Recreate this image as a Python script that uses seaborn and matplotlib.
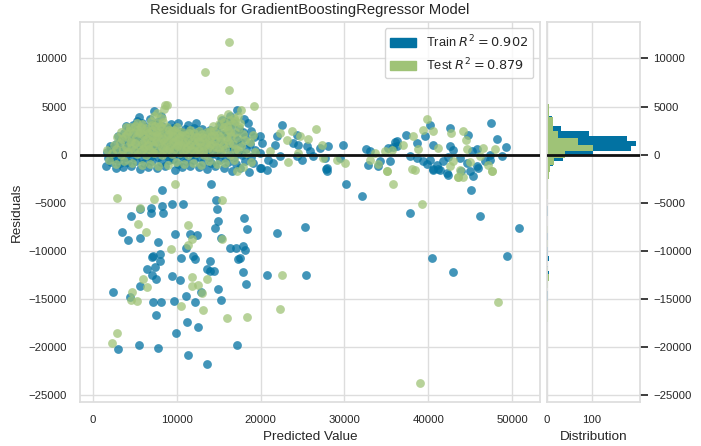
import matplotlib
matplotlib.use("Agg")
import matplotlib.pyplot as plt
import matplotlib.patches as mpatches
import numpy as np
import pandas as pd
import seaborn as sns

# colours of the yellowbrick palette
TRAIN_COLOR = "#0272a2"
TEST_COLOR = "#9fc377"

train_r2 = 0.902
test_r2 = 0.879

# (predicted value, residual)
train_core = [
    (1600, -1200), (2100, -800), (1800, -400), (2300, 0), (1700, 300), (2200, 600), (2000, 900), (2400, -300),
    (2700, -1400), (3200, -900), (2900, -500), (3400, -100), (2600, 300), (3100, 700), (2800, 1100), (3300, 1500), (3000, 1900),
    (3600, -1300), (4100, -800), (3800, -300), (4300, 200), (3700, 600), (4200, 1000), (3900, 1400), (4400, 1800), (3700, 2200), (4200, 2600), (4000, 3000),
    (4600, -1200), (5100, -700), (4800, -200), (5300, 300), (4700, 700), (5200, 1100), (4900, 1500), (5400, 1900), (4700, 2300), (5100, 2700), (4800, 3100), (5300, 3500), (5490, 3880),
    (5600, -1500), (6100, -900), (5800, -400), (6300, 100), (5700, 500), (6200, 900), (5900, 1300), (6400, 1700), (5600, 2100), (6000, 2500), (6300, 2900), (5800, 3300),
    (6600, -1300), (7100, -700), (6800, -200), (7300, 300), (6700, 700), (7200, 1100), (6900, 1500), (7400, 1900), (6600, 2300), (7000, 2700), (7300, 3200), (6800, 3700), (7280, 4510),
    (7600, -1400), (8100, -800), (7800, -300), (8300, 200), (7700, 600), (8200, 1000), (7900, 1400), (8400, 1800), (7600, 2200), (8000, 2600), (8300, 3000), (7700, 3400), (8100, 4000),
    (8600, -1200), (9100, -600), (8800, -100), (9300, 400), (8700, 800), (9200, 1200), (8900, 1600), (9400, 2000), (8600, 2400), (9000, 2800), (9300, 3200),
    (9750, -1600), (10100, -1000), (9600, -500), (10300, 0), (9800, 400), (10200, 800), (9700, 1200), (10400, 1600), (9900, 2000), (10300, 2400), (9600, 2800), (10100, 3300),
    (10600, -1300), (11100, -700), (10800, -200), (11300, 300), (10700, 700), (11200, 1100), (10900, 1500), (11400, 1900), (10600, 2300), (11000, 2700), (11300, 3100),
    (11600, -1200), (12100, -600), (11800, 0), (12300, 400), (11700, 800), (12200, 1200), (11900, 1600), (12400, 2000), (11600, 2400), (12000, 2800), (12300, 3300),
    (12600, -1300), (13100, -800), (12800, -200), (13300, 300), (12700, 700), (13200, 1100), (12900, 1500), (13400, 1900), (12600, 2300), (13000, 2700),
    (13600, -1500), (14100, -900), (13800, -300), (14300, 200), (13700, 600), (14200, 1000), (13900, 1400), (14400, 1800), (13600, 2200), (14000, 2600),
    (14600, -1200), (15100, -600), (14800, 0), (15300, 500), (14700, 900), (15200, 1300), (14900, 1700), (15400, 2100), (14700, 2600), (15100, 3100), (15400, 3600),
    (15600, -1400), (16100, -800), (15800, -200), (16300, 400), (15700, 1000), (16200, 1600), (15900, 2200), (16400, 2800), (16000, 3400), (16300, 4000),
    (16600, -1700), (17100, -1000), (16800, -300), (17300, 300), (16700, 900), (17200, 1500), (16900, 2100), (17400, 2700), (16800, 3300), (17140, 4680),
    (17600, -1400), (18100, -700), (17800, 0), (18300, 600), (17700, 1200), (18200, 1800), (17900, 2400), (18530, 3290), (18000, 3700),
    (18600, -1800), (19100, -900), (18800, -200), (19300, 500), (18700, 1100), (19200, 1800), (18900, 2500),
]

train_mid = [
    (19920, 1900), (21910, 1980), (24300, 2080), (22510, 3120), (20120, 1210), (21710, 1040), (23900, 1210),
    (24500, 1040), (25490, 870), (27080, 690), (28070, 940), (29870, 1040), (19920, 170), (20920, -520),
    (22310, -170), (24300, -170), (24900, -520), (25900, 350), (26300, -170), (27880, -1390), (27880, -1730),
    (29470, -350), (19920, -1390), (21510, -870), (20720, -1560), (33050, 350), (32850, -1040), (34050, -1210),
    (35240, 690), (36030, 1280), (36230, 870), (34300, -700), (32570, 590), (27720, -350),
    (40210, 3120), (39610, 1910), (42590, 2770), (44780, 2080), (47440, 3290), (48160, 1630), (49270, 800),
    (48760, -170), (37340, 2010), (36230, 1390), (35830, 800), (38620, 1210), (40610, 1040), (42590, 940),
    (43000, 520), (45180, 350), (45780, 590), (47370, 0), (37820, -170), (38620, -350), (39410, -690),
    (40210, -520), (41000, -1040), (41800, -690), (43790, -350), (44600, -870), (45780, -1210), (46770, -690),
    (47370, -520), (42390, -2080), (44990, -1730), (45380, -2250), (35430, -690), (40610, -1560), (41400, -1560),
    (39800, -1000), (42300, -200),
]

train_tail = [
    (14050, -3010), (20020, -1435), (27780, -1540), (30170, -3010), (32120, -4340), (37770, -6055),
    (40600, -1540), (41200, -1540), (42270, -1960), (43900, -1750), (45090, -3710), (45900, -1400),
    (46170, -6335), (50790, -7630), (40480, -10780), (42900, -12215), (49430, -10535), (25270, -7490),
    (21970, -8155), (20820, -12565), (25390, -12495), (8240, -3710), (6890, -5565), (6890, -6055),
    (8280, -5355), (8360, -6055), (9470, -5110), (10750, -5110), (5570, -5635), (4500, -6335),
    (3460, -8015), (4220, -8890), (5570, -8680), (7800, -9065), (9750, -8260), (11540, -8260),
    (12420, -8365), (11060, -9660), (14730, -4760), (14770, -5635), (14970, -6860), (14610, -7630),
    (18070, -6580), (18430, -7770), (15320, -8700), (16320, -9695), (17110, -9695), (17910, -9485),
    (18110, -9870), (17310, -10815), (17550, -10750), (7160, -10535), (7080, -10620), (7960, -10290),
    (7960, -11060), (10470, -10780), (11940, -10535), (12140, -10885), (13930, -11060), (7360, -11690),
    (6490, -11935), (7090, -12565), (7480, -12880), (9390, -12635), (10350, -12985), (13570, -11935),
    (13930, -12110), (14440, -12110), (17910, -12215), (18230, -13405), (5650, -13685), (2390, -14315),
    (4380, -14840), (7160, -15365), (8160, -15365), (7480, -16660), (9630, -15260), (11060, -14735),
    (12140, -15365), (12860, -14315), (14970, -13965), (15280, -15085), (11180, -17360), (12540, -17885),
    (9870, -18515), (3020, -20230), (5530, -19810), (7800, -20090), (17190, -19810), (11340, -20860),
    (13570, -21805),
]

test_core = [
    (1900, -600), (2300, 200), (1700, 500),
    (2800, -1000), (3300, 0), (2700, 600), (3200, 1200), (2900, 1800), (3400, 2300),
    (3700, -700), (4200, 300), (3900, 800), (4400, 1300), (3800, 1900), (4300, 2500), (4000, 2900),
    (4700, -900), (5200, 100), (4900, 500), (5400, 1000), (4600, 1400), (5100, 1800), (4800, 2200), (5300, 2600), (5000, 3000),
    (5900, -1100), (6300, 0), (5700, 400), (6200, 800), (5800, 1200), (6400, 1600), (6000, 2000), (5600, 2400), (6300, 2800), (5900, 3200),
    (6800, -1000), (7300, 200), (6700, 600), (7200, 1000), (6900, 1400), (7400, 1800), (6600, 2200), (7100, 2600), (7400, 3000), (6900, 3500), (7300, 4000),
    (7800, -1200), (8300, 0), (7700, 400), (8200, 800), (7900, 1200), (8400, 1600), (7600, 2000), (8000, 2400), (8300, 2800), (7800, 3300), (8200, 3800), (8870, 5165), (8600, 5150), (8500, 4700),
    (8900, -1100), (9400, 100), (8700, 500), (9200, 900), (8800, 1300), (9300, 1700), (9000, 2100), (9400, 2500), (8800, 2900),
    (9900, -800), (10400, 200), (9700, 600), (10200, 1000), (9800, 1400), (10300, 1800), (10000, 2200), (9700, 2600),
    (10900, -1000), (11300, 0), (10700, 400), (11200, 800), (10800, 1200), (11400, 1600), (11000, 2000), (10600, 2400),
    (11900, -900), (12300, 200), (11700, 600), (12200, 1000), (11800, 1400), (12400, 1800), (12000, 2200), (11600, 2600),
    (12900, -1100), (13300, 0), (12700, 500), (13200, 900), (12800, 1300), (13400, 1700), (13000, 2100), (12600, 2500),
    (13800, -700), (14300, 300), (13700, 700), (14200, 1100), (13900, 1500), (14400, 2000), (14000, 2500), (14300, 3000),
    (14800, -1000), (15300, 200), (14700, 800), (15200, 1400), (14900, 2000), (15400, 2600), (15000, 3200), (15300, 3800),
    (15800, -900), (16300, 0), (15700, 600), (16200, 1200), (15900, 1800), (16400, 2400), (16000, 3000), (16300, 3600), (16100, 4200),
    (16800, -600), (17300, 500), (16700, 1100), (17200, 1700), (16900, 2300), (17400, 2900), (17000, 3500), (17660, 4610), (17300, 4000),
    (17900, -1300), (18300, 200), (17700, 900), (18200, 1500), (17900, 2100), (19210, 5030),
    (18800, -800), (19300, 300), (18700, 1300), (19100, 2000),
    # second layer of the green blob, where the reference is solid green
    (2500, 1000), (3600, 500), (3500, 1600), (4100, 2100), (4500, 700), (4400, 2900), (5000, 1200),
    (5500, 2200), (5200, 3300), (6000, 600), (6100, 1500), (5700, 2900), (6500, 2500), (6600, 1000),
    (7000, 1900), (7100, 3100), (7000, 300), (7500, 1300), (7500, 2400), (7700, 4300), (8100, 1900),
    (8000, 3000), (8400, 500), (8500, 1300), (8400, 3400), (8900, 2000), (9100, 600), (9100, 2600),
    (9500, 1300), (9600, 1900), (10000, 900), (10100, 1500), (10000, 2900), (10500, 1000), (10500, 2000),
    (11000, 1300), (11100, 600), (11500, 2200), (11600, 1000), (12000, 1800), (12100, 400), (12500, 1400),
    (12600, 800), (13000, 1800), (13100, 400), (13500, 1200), (13600, 2400), (14000, 1000), (14100, 1900),
    (14600, 1400), (14500, 2500), (15000, 700), (15100, 1800), (15500, 1000), (15600, 2900), (15600, 3400),
    (16000, 1500), (16100, 2600), (16500, 1900), (16600, 3200), (16800, 3800), (17000, 600), (17600, 3300),
]

test_mid = [
    (22300, 2250), (23700, 2430), (24700, 1900), (23100, 1560), (25690, 1630), (27280, 1040), (26600, 2670),
    (21120, 350), (23300, -800), (27480, -350), (29080, -520), (30070, -870), (33650, 170), (33050, -520),
    (35040, -1730), (34850, 350), (35640, 520), (24500, 170), (33960, -940),
    (39890, 3710), (39410, 2600), (40610, 2430), (42670, 2250), (44100, 2430), (44500, 1490), (47960, 590),
    (38220, 1910), (37030, 1040), (38820, 590), (41200, 690), (44600, 590), (46570, 690), (43000, -690),
    (44990, -800), (46170, -170), (47170, -1040), (42590, -1210), (43790, -1560), (43590, -2330),
    (47570, -1730), (38420, -1560), (44200, -2300),
]

test_tail = [
    (9750, -3010), (17190, -1715), (35100, -1715), (35820, -3010), (38090, -1540), (39240, -5110),
    (43580, -2310), (47640, -1715), (48360, -15365), (38960, -23730), (22570, -12565), (22290, -16030),
    (2870, -4480), (7240, -4585), (5650, -5565), (5410, -7210), (6290, -8015), (11340, -7315),
    (11820, -8785), (11300, -9400), (9270, -9835), (15440, -4760), (15440, -8785), (5970, -12880),
    (11820, -12705), (11820, -13685), (12530, -13510), (13610, -12880), (13000, -14400), (6450, -13790),
    (4660, -14315), (4580, -15085), (5250, -15260), (10470, -15785), (13130, -16135), (16000, -16940),
    (18430, -16835), (2870, -18585), (2270, -19565), (16190, 11680), (13320, 8560), (16190, 6760),
]

# histogram bars (50 bins each, like yellowbrick)
train_bin_start, train_bin_width = -21493, 520
train_counts = [1, 1, 1, 1, 1, 0, 1, 1, 0, 1, 1,
                2, 3, 2, 1, 1, 2, 4, 2, 1, 5, 2, 3, 2, 3, 2, 2, 1, 1, 2,
                3, 1, 1, 1, 1, 2, 2, 3, 6, 13, 36, 103, 187, 197, 178, 94, 31, 12, 12, 5, 2]
test_bin_start, test_bin_width = -23730, 708
test_counts = [1, 0, 0, 0, 0, 1, 1, 0, 0, 2,
               2, 3, 1, 1, 3, 4, 2, 1, 1, 1,
               2, 1, 2, 1, 1, 1, 1, 2, 2, 3,
               4, 8, 15, 40, 103, 69, 25, 13, 13, 4,
               4, 1, 0, 1, 0, 1, 0, 0, 0, 1]

train_df = pd.DataFrame(train_core + train_mid + train_tail, columns=["pred", "resid"])
test_df = pd.DataFrame(test_core + test_mid + test_tail, columns=["pred", "resid"])

train_edges = list(train_bin_start + train_bin_width * np.arange(len(train_counts) + 1))
test_edges = list(test_bin_start + test_bin_width * np.arange(len(test_counts) + 1))
train_hist = pd.DataFrame({"resid": [(a + b) / 2 for a, b in zip(train_edges[:-1], train_edges[1:])],
                           "count": train_counts})
test_hist = pd.DataFrame({"resid": [(a + b) / 2 for a, b in zip(test_edges[:-1], test_edges[1:])],
                          "count": test_counts})

sns.set_theme(style="whitegrid", rc={"grid.color": "#dddddd", "axes.edgecolor": "#dddddd"})
plt.rcParams["font.family"] = ["Liberation Sans", "DejaVu Sans"]

fig = plt.figure(figsize=(7.01, 4.46), dpi=100)
ax = fig.add_axes([0.114, 0.099, 0.656, 0.852])
hax = fig.add_axes([0.780, 0.099, 0.133, 0.852], sharey=ax)

sns.scatterplot(data=train_df, x="pred", y="resid", color=TRAIN_COLOR, alpha=0.75,
                s=40, linewidth=0, ax=ax, legend=False)
sns.scatterplot(data=test_df, x="pred", y="resid", color=TEST_COLOR, alpha=0.75,
                s=40, linewidth=0, ax=ax, legend=False)
ax.axhline(0, color="#111111", lw=2, zorder=3)

# histograms
sns.histplot(data=train_hist, y="resid", weights="count", bins=train_edges,
             color=TRAIN_COLOR, alpha=1, linewidth=0, ax=hax)
sns.histplot(data=test_hist, y="resid", weights="count", bins=test_edges,
             color=TEST_COLOR, alpha=1, linewidth=0, ax=hax)
hax.axhline(0, color="#111111", lw=2, zorder=3)

ax.set_xlim(-1550, 53300)
ax.set_ylim(-25700, 13800)
ax.set_xticks([0, 10000, 20000, 30000, 40000, 50000])
ax.set_yticks([-25000, -20000, -15000, -10000, -5000, 0, 5000, 10000])
ax.set_title("Residuals for GradientBoostingRegressor Model", fontsize=10.7)
ax.set_xlabel("Predicted Value", fontsize=9.7)
ax.set_ylabel("Residuals", fontsize=9.7)
ax.tick_params(labelsize=8.2)

hax.set_xticks([0, 100])
hax.set_xlabel("Distribution", fontsize=9.7)
hax.set_ylabel("")
hax.yaxis.tick_right()
hax.tick_params(labelsize=8.2, labelleft=False, labelright=True)

handles = [mpatches.Patch(color=TRAIN_COLOR, label=r"Train $R^2 = {:0.3f}$".format(train_r2)),
           mpatches.Patch(color=TEST_COLOR, label=r"Test $R^2 = {:0.3f}$".format(test_r2))]
ax.legend(handles=handles, loc="upper right", frameon=True, fontsize=9.3)

fig.savefig("out.png", dpi=100)
